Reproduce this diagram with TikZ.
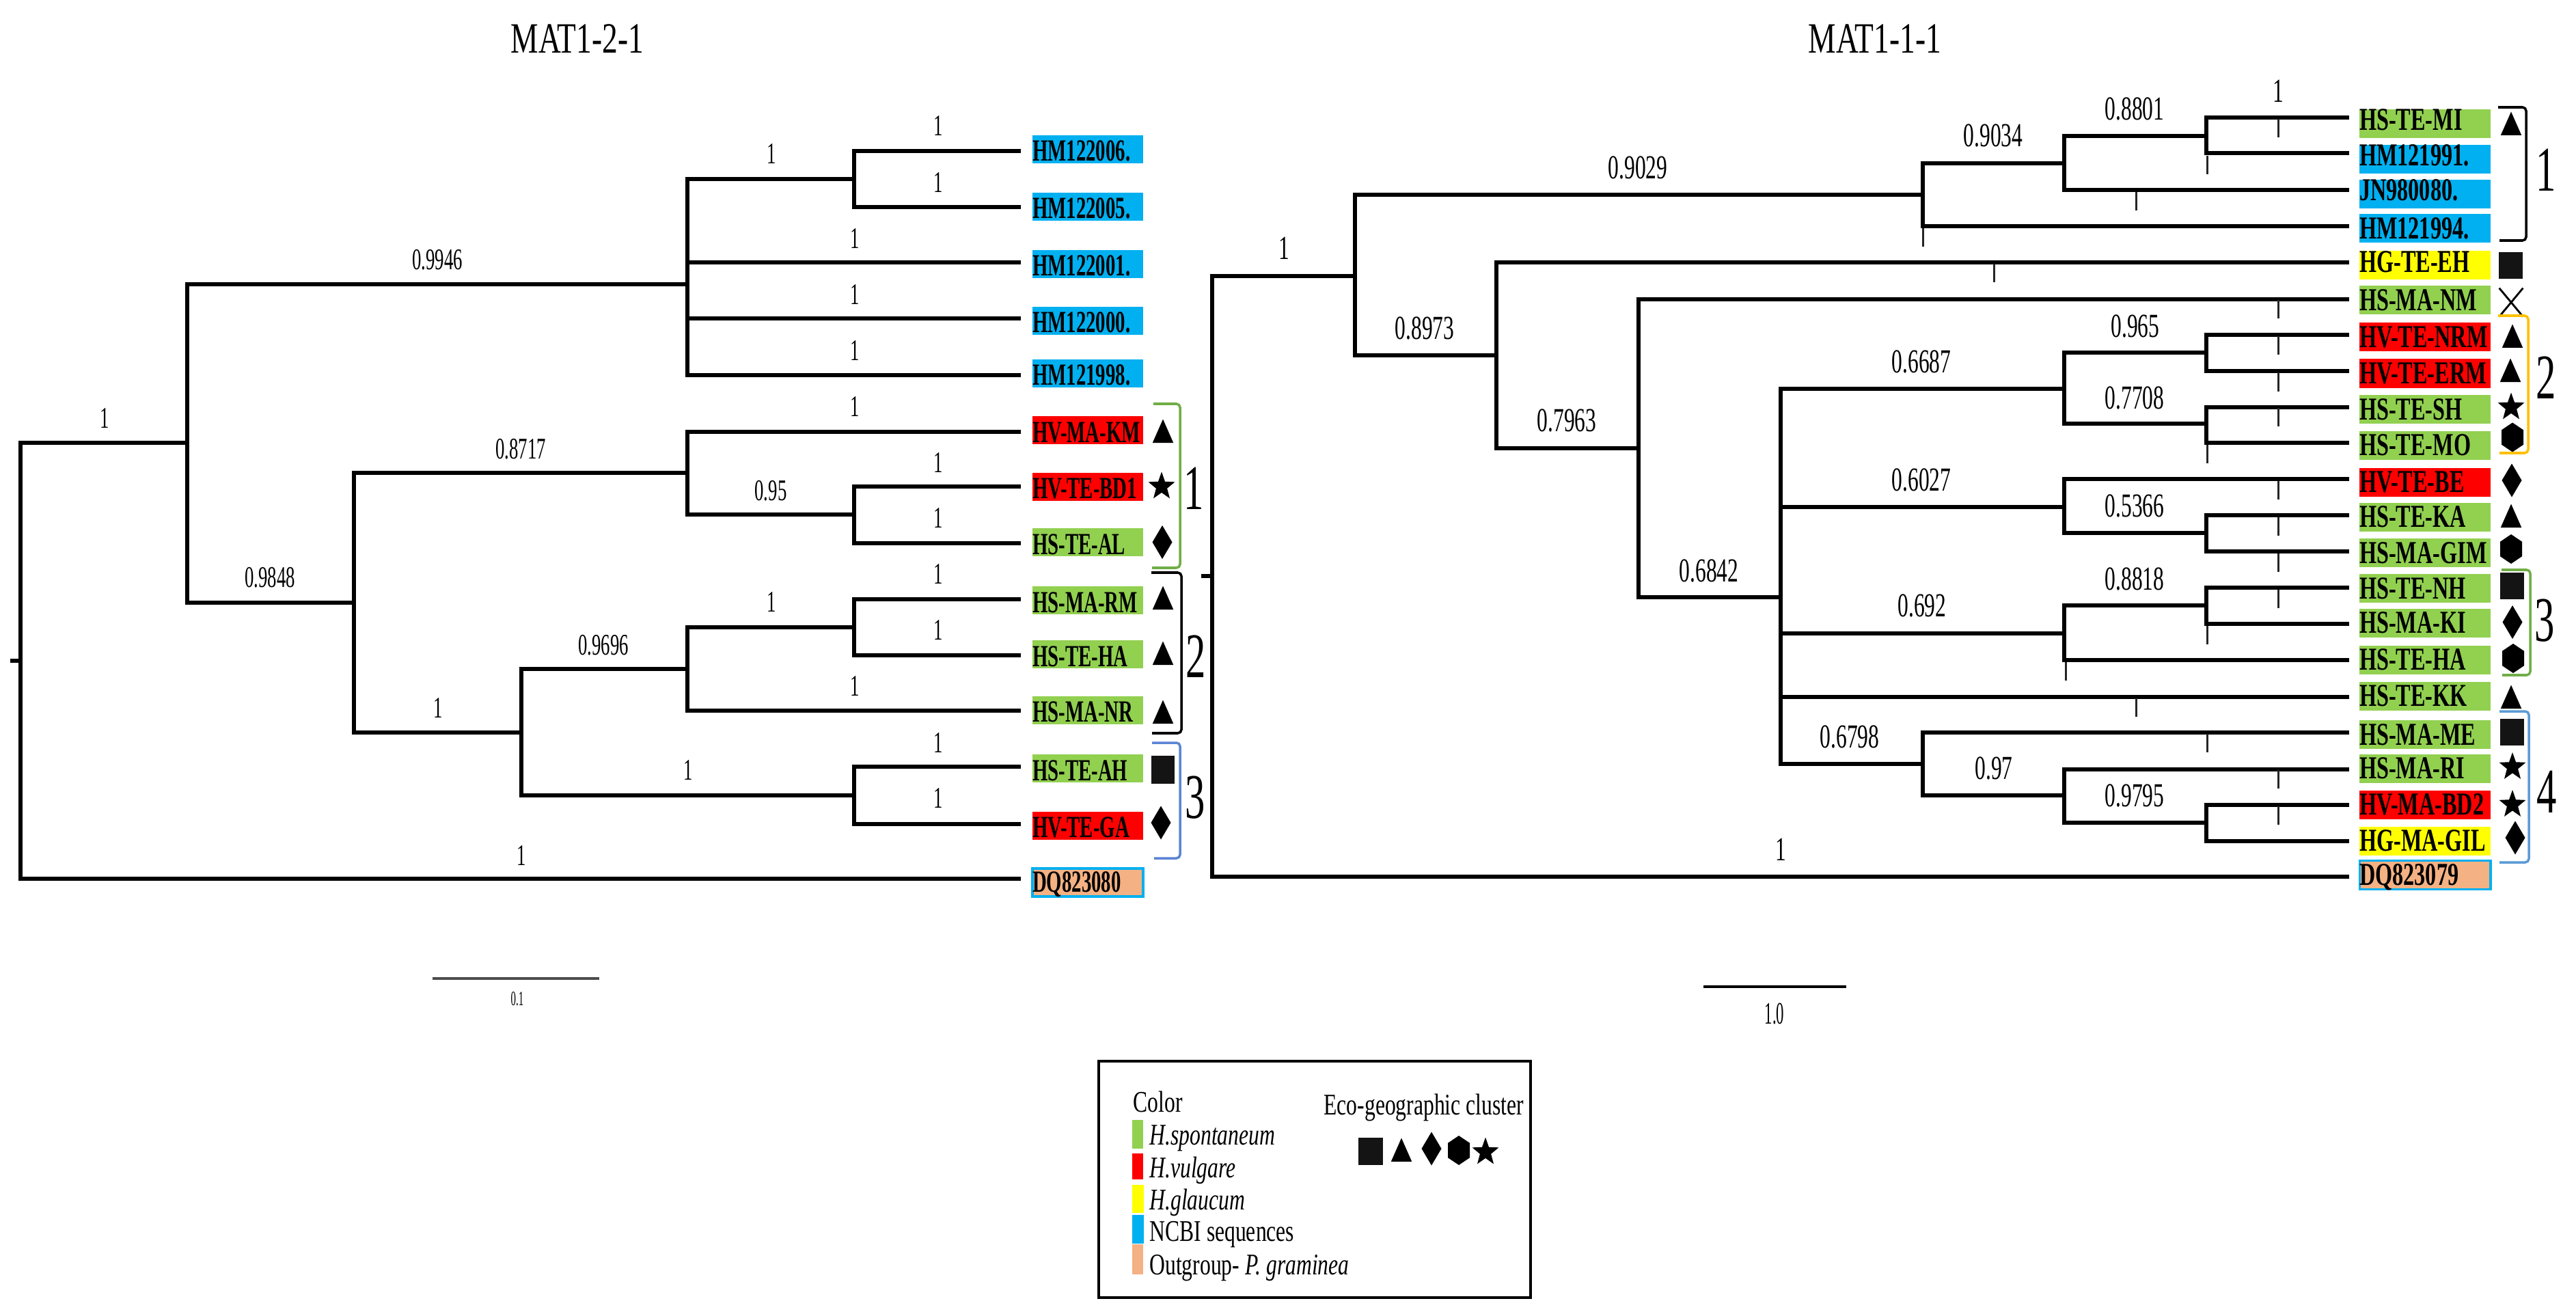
\documentclass[tikz,border=0pt]{standalone}
\usepackage{fontspec}
\setmainfont{Liberation Serif}
\usetikzlibrary{shapes.geometric}
\usetikzlibrary{shapes.misc}
\definecolor{spont}{HTML}{92D050}
\definecolor{vulg}{HTML}{FF0000}
\definecolor{glauc}{HTML}{FFFF00}
\definecolor{ncbi}{HTML}{00B0F0}
\definecolor{outgr}{HTML}{F4B183}
\definecolor{grp}{HTML}{70AD47}
\definecolor{blu}{HTML}{5B85D5}
\definecolor{sky}{HTML}{5B9BD5}
\definecolor{amber}{HTML}{FFC000}
\begin{document}
\begin{tikzpicture}[y=-1cm,
	branch/.style={line width=1.6pt},
	rbranch/.style={line width=1.85pt},
	ltax/.style={inner sep=0,outer sep=0,xscale=.64,text width=2.53cm,text height=.38cm,text depth=.03cm,align=left,font=\fontsize{12.8pt}{13pt}\selectfont\bfseries,execute at begin node={\hyphenchar\font=-1 }},
	rtax/.style={inner sep=0,outer sep=0,xscale=.69,text width=2.78cm,text height=.36cm,text depth=.06cm,align=left,font=\fontsize{13.3pt}{14pt}\selectfont\bfseries,execute at begin node={\hyphenchar\font=-1 }},
	hightax/.style={text height=.31cm,text depth=.11cm},
	lsup/.style={inner sep=0,xscale=.61,font=\fontsize{12.5pt}{13pt}\selectfont},
	rsup/.style={inner sep=0,xscale=.64,font=\fontsize{14pt}{15pt}\selectfont},
	ticknode/.style={rectangle,fill=black!85,inner sep=0,minimum width=.03cm,minimum height=.27cm},
	clnum/.style={inner sep=0,xscale=.63,font=\fontsize{26.5pt}{27pt}\selectfont},
	titlenode/.style={inner sep=0,xscale=.72,font=\fontsize{18pt}{19pt}\selectfont},
	legtxt/.style={inner sep=0,anchor=west,xscale=.72,font=\fontsize{12.5pt}{13pt}\selectfont},
	brack/.style={line width=1pt,rounded corners=1.5pt},
	swatch/.style={rectangle,inner sep=0,minimum width=.16cm},
	trimark/.style={regular polygon,regular polygon sides=3,fill=black,inner sep=0,outer sep=0,minimum size=.4cm,xscale=.88,yscale=1.15,anchor=side 2},
	dimark/.style={diamond,fill=black,inner sep=0,outer sep=0,minimum width=.29cm,minimum height=.49cm},
	hexmark/.style={regular polygon,regular polygon sides=6,shape border rotate=30,fill=black,inner sep=0,outer sep=0,minimum size=.43cm,xscale=.86},
	starmark/.style={star,star points=5,star point ratio=2.4,fill=black,inner sep=0,outer sep=0,minimum size=.43cm,xscale=.95},
	sqmark/.style={rectangle,fill=black!92,inner sep=0,outer sep=0,minimum width=.35cm,minimum height=.39cm}]
	\useasboundingbox (0,0) rectangle (37.70,19.23);
	\node[titlenode](ltitle) at (8.45,.57){MAT1-2-1};
	\node[titlenode](rtitle) at (27.44,.57){MAT1-1-1};

	% left tree
	\coordinate (lstub) at (.15,9.67);
	\coordinate (lroot) at (.30,9.67);
	\coordinate (lA) at (2.74,6.48);
	\coordinate (lB) at (5.18,8.82);
	\coordinate (lC) at (7.63,10.72);
	\coordinate (lD) at (10.06,4.16);
	\coordinate (lD2) at (12.50,2.62);
	\coordinate (lE) at (10.06,6.92);
	\coordinate (lE2) at (12.50,7.53);
	\coordinate (lG) at (10.06,9.79);
	\coordinate (lG2) at (12.50,9.18);
	\coordinate (lH) at (12.50,11.64);
	\coordinate (lhm6e) at (14.94,2.21);
	\coordinate (lhm5e) at (14.94,3.03);
	\coordinate (lhm1e) at (14.94,3.84);
	\coordinate (lhm0e) at (14.94,4.66);
	\coordinate (lhm8e) at (14.94,5.49);
	\coordinate (lkme) at (14.94,6.32);
	\coordinate (lbde) at (14.94,7.12);
	\coordinate (lale) at (14.94,7.95);
	\coordinate (lrme) at (14.94,8.77);
	\coordinate (lhae) at (14.94,9.59);
	\coordinate (lnre) at (14.94,10.40);
	\coordinate (lahe) at (14.94,11.22);
	\coordinate (lgae) at (14.94,12.06);
	\coordinate (ldqe) at (14.94,12.86);
	\draw[branch] (lstub) -- (lroot);
	\draw[branch] (lroot) |- (lA);
	\draw[branch] (lroot) |- (ldqe);
	\draw[branch] (lA) |- (lD);
	\draw[branch] (lA) |- (lB);
	\draw[branch] (lB) |- (lE);
	\draw[branch] (lB) |- (lC);
	\draw[branch] (lC) |- (lG);
	\draw[branch] (lC) |- (lH);
	\draw[branch] (lD) |- (lD2);
	\draw[branch] (lD2) |- (lhm6e);
	\draw[branch] (lD2) |- (lhm5e);
	\draw[branch] (lD) |- (lhm1e);
	\draw[branch] (lD) |- (lhm0e);
	\draw[branch] (lD) |- (lhm8e);
	\draw[branch] (lE) |- (lkme);
	\draw[branch] (lE) |- (lE2);
	\draw[branch] (lE2) |- (lbde);
	\draw[branch] (lE2) |- (lale);
	\draw[branch] (lG) |- (lG2);
	\draw[branch] (lG2) |- (lrme);
	\draw[branch] (lG2) |- (lhae);
	\draw[branch] (lG) |- (lnre);
	\draw[branch] (lH) |- (lahe);
	\draw[branch] (lH) |- (lgae);

	\node[ltax,fill=ncbi](lhm6) at (15.92,2.185){HM122006.};
	\node[ltax,fill=ncbi](lhm5) at (15.92,3.025){HM122005.};
	\node[ltax,fill=ncbi](lhm1) at (15.92,3.865){HM122001.};
	\node[ltax,fill=ncbi](lhm0) at (15.92,4.695){HM122000.};
	\node[ltax,fill=ncbi](lhm8) at (15.92,5.46){HM121998.};
	\node[ltax,fill=vulg](lkm) at (15.92,6.295){HV-MA-KM};
	\node[ltax,fill=vulg](lbd) at (15.92,7.12){HV-TE-BD1};
	\node[ltax,fill=spont](lal) at (15.92,7.935){HS-TE-AL};
	\node[ltax,fill=spont](lrm) at (15.92,8.785){HS-MA-RM};
	\node[ltax,fill=spont](lha) at (15.92,9.575){HS-TE-HA};
	\node[ltax,fill=spont](lnr) at (15.92,10.39){HS-MA-NR};
	\node[ltax,fill=spont](lah) at (15.92,11.245){HS-TE-AH};
	\node[ltax,fill=vulg](lga) at (15.92,12.08){HV-TE-GA};
	\node[ltax,fill=outgr,draw=ncbi,line width=.9pt,text height=.34cm,text depth=.07cm](ldq) at (15.92,12.915){DQ823080};

	\node[lsup](ls1) at (1.53,6.12){1};
	\node[lsup](ls2) at (6.40,3.80){0.9946};
	\node[lsup](ls3) at (7.62,6.57){0.8717};
	\node[lsup](ls4) at (3.95,8.45){0.9848};
	\node[lsup](ls5) at (8.83,9.44){0.9696};
	\node[lsup](ls6) at (6.41,10.36){1};
	\node[lsup](ls7) at (7.63,12.52){1};
	\node[lsup](ls8) at (11.29,2.25){1};
	\node[lsup](ls9) at (13.73,1.84){1};
	\node[lsup](ls10) at (13.73,2.67){1};
	\node[lsup](ls11) at (12.51,3.49){1};
	\node[lsup](ls12) at (12.51,4.31){1};
	\node[lsup](ls13) at (12.51,5.13){1};
	\node[lsup](ls14) at (12.51,5.95){1};
	\node[lsup](ls15) at (13.73,6.77){1};
	\node[lsup](ls16) at (13.73,7.58){1};
	\node[lsup](ls17) at (11.28,7.18){0.95};
	\node[lsup](ls18) at (13.73,8.40){1};
	\node[lsup](ls19) at (11.29,8.81){1};
	\node[lsup](ls20) at (13.73,9.22){1};
	\node[lsup](ls21) at (12.51,10.04){1};
	\node[lsup](ls22) at (13.73,10.87){1};
	\node[lsup](ls23) at (10.07,11.27){1};
	\node[lsup](ls24) at (13.73,11.68){1};

	\node[trimark](lm1) at (17.02,6.48){};
	\node[starmark](lm2) at (17.00,7.12){};
	\node[dimark](lm3) at (17.01,7.935){};
	\node[trimark](lm4) at (17.02,8.92){};
	\node[trimark](lm5) at (17.02,9.73){};
	\node[trimark](lm6) at (17.02,10.59){};
	\node[sqmark,minimum width=.34cm,minimum height=.41cm](lm7) at (17.02,11.265){};
	\node[dimark](lm8) at (16.99,12.04){};

	\draw[brack,grp] (16.88,5.91) -| (17.27,8.31) -- (16.86,8.31);
	\draw[brack,black] (16.85,8.38) -| (17.29,10.73) -- (16.86,10.73);
	\draw[brack,blu] (16.86,10.87) -| (17.27,12.56) -- (16.89,12.56);
	\node[clnum](lc1) at (17.47,7.15){1};
	\node[clnum](lc2) at (17.50,9.61){2};
	\node[clnum](lc3) at (17.49,11.67){3};

	\coordinate (lsa) at (6.33,14.32);
	\coordinate (lsb) at (8.77,14.32);
	\draw[line width=1.1pt,black!70] (lsa) -- (lsb);
	\node[inner sep=0,xscale=.5,font=\fontsize{8.5pt}{9pt}\selectfont](lsl) at (7.57,14.62){0.1};

	% right tree
	\coordinate (rstub) at (17.58,8.43);
	\coordinate (rroot) at (17.74,8.43);
	\coordinate (rA) at (19.83,4.04);
	\coordinate (rB) at (21.90,5.20);
	\coordinate (rC) at (23.98,6.56);
	\coordinate (rD) at (26.06,8.74);
	\coordinate (rE1) at (28.14,2.85);
	\coordinate (rE2) at (30.21,2.39);
	\coordinate (rE3) at (32.29,1.99);
	\coordinate (rF1) at (30.21,5.69);
	\coordinate (rF2) at (32.29,5.16);
	\coordinate (rF3) at (32.29,6.20);
	\coordinate (rG1) at (30.21,7.42);
	\coordinate (rG2) at (32.29,7.80);
	\coordinate (rH1) at (30.21,9.27);
	\coordinate (rH2) at (32.29,8.86);
	\coordinate (rI1) at (28.14,11.18);
	\coordinate (rI2) at (30.21,11.64);
	\coordinate (rI3) at (32.29,12.04);
	\coordinate (rmie) at (34.38,1.72);
	\coordinate (r91e) at (34.38,2.24);
	\coordinate (rjne) at (34.38,2.78);
	\coordinate (r94e) at (34.38,3.31);
	\coordinate (rehe) at (34.38,3.84);
	\coordinate (rnme) at (34.38,4.38);
	\coordinate (rnre) at (34.38,4.90);
	\coordinate (rere) at (34.38,5.43);
	\coordinate (rshe) at (34.38,5.96);
	\coordinate (rmoe) at (34.38,6.48);
	\coordinate (rbee) at (34.38,7.01);
	\coordinate (rkae) at (34.38,7.54);
	\coordinate (rgie) at (34.38,8.07);
	\coordinate (rnhe) at (34.38,8.60);
	\coordinate (rkie) at (34.38,9.13);
	\coordinate (rhae) at (34.38,9.66);
	\coordinate (rkke) at (34.38,10.20);
	\coordinate (rmee) at (34.38,10.72);
	\coordinate (rrie) at (34.38,11.26);
	\coordinate (rbde) at (34.38,11.78);
	\coordinate (rgle) at (34.38,12.31);
	\coordinate (rdqe) at (34.38,12.83);
	\draw[rbranch] (rstub) -- (rroot);
	\draw[rbranch] (rroot) |- (rA);
	\draw[rbranch] (rroot) |- (rdqe);
	\draw[rbranch] (rA) |- (rE1);
	\draw[rbranch] (rA) |- (rB);
	\draw[rbranch] (rB) |- (rehe);
	\draw[rbranch] (rB) |- (rC);
	\draw[rbranch] (rC) |- (rnme);
	\draw[rbranch] (rC) |- (rD);
	\draw[rbranch] (rE1) |- (rE2);
	\draw[rbranch] (rE1) |- (r94e);
	\draw[rbranch] (rE2) |- (rE3);
	\draw[rbranch] (rE2) |- (rjne);
	\draw[rbranch] (rE3) |- (rmie);
	\draw[rbranch] (rE3) |- (r91e);
	\draw[rbranch] (rD) |- (rF1);
	\draw[rbranch] (rD) |- (rG1);
	\draw[rbranch] (rD) |- (rH1);
	\draw[rbranch] (rD) |- (rkke);
	\draw[rbranch] (rD) |- (rI1);
	\draw[rbranch] (rF1) |- (rF2);
	\draw[rbranch] (rF1) |- (rF3);
	\draw[rbranch] (rF2) |- (rnre);
	\draw[rbranch] (rF2) |- (rere);
	\draw[rbranch] (rF3) |- (rshe);
	\draw[rbranch] (rF3) |- (rmoe);
	\draw[rbranch] (rG1) |- (rbee);
	\draw[rbranch] (rG1) |- (rG2);
	\draw[rbranch] (rG2) |- (rkae);
	\draw[rbranch] (rG2) |- (rgie);
	\draw[rbranch] (rH1) |- (rH2);
	\draw[rbranch] (rH1) |- (rhae);
	\draw[rbranch] (rH2) |- (rnhe);
	\draw[rbranch] (rH2) |- (rkie);
	\draw[rbranch] (rI1) |- (rmee);
	\draw[rbranch] (rI1) |- (rI2);
	\draw[rbranch] (rI2) |- (rrie);
	\draw[rbranch] (rI2) |- (rI3);
	\draw[rbranch] (rI3) |- (rbde);
	\draw[rbranch] (rI3) |- (rgle);

	\node[rtax,hightax,fill=spont](rmi) at (35.49,1.81){HS-TE-MI};
	\node[rtax,hightax,fill=ncbi](r91) at (35.49,2.33){HM121991.};
	\node[rtax,hightax,fill=ncbi](rjn) at (35.49,2.84){JN980080.};
	\node[rtax,fill=ncbi](r94) at (35.49,3.345){HM121994.};
	\node[rtax,hightax,fill=glauc](reh) at (35.49,3.885){HG-TE-EH};
	\node[rtax,fill=spont](rnm) at (35.49,4.39){HS-MA-NM};
	\node[rtax,fill=vulg](rnr) at (35.49,4.93){HV-TE-NRM};
	\node[rtax,fill=vulg](rer) at (35.49,5.465){HV-TE-ERM};
	\node[rtax,fill=spont](rsh) at (35.49,5.99){HS-TE-SH};
	\node[rtax,fill=spont](rmo) at (35.49,6.515){HS-TE-MO};
	\node[rtax,fill=vulg](rbe) at (35.49,7.055){HV-TE-BE};
	\node[rtax,fill=spont](rka) at (35.49,7.565){HS-TE-KA};
	\node[rtax,fill=spont](rgi) at (35.49,8.09){HS-MA-GIM};
	\node[rtax,fill=spont](rnh) at (35.49,8.61){HS-TE-NH};
	\node[rtax,fill=spont](rki) at (35.49,9.115){HS-MA-KI};
	\node[rtax,fill=spont](rha) at (35.49,9.655){HS-TE-HA};
	\node[rtax,fill=spont](rkk) at (35.49,10.185){HS-TE-KK};
	\node[rtax,fill=spont](rme) at (35.49,10.75){HS-MA-ME};
	\node[rtax,fill=spont](rri) at (35.49,11.245){HS-MA-RI};
	\node[rtax,fill=vulg](rbd) at (35.49,11.775){HV-MA-BD2};
	\node[rtax,fill=glauc](rgl) at (35.49,12.305){HG-MA-GIL};
	\node[rtax,fill=outgr,draw=ncbi,line width=.9pt](rdq) at (35.49,12.805){DQ823079};

	\node[rsup](rs1) at (18.79,3.63){1};
	\node[rsup](rs2) at (23.97,2.45){0.9029};
	\node[rsup](rs3) at (20.85,4.80){0.8973};
	\node[rsup](rs4) at (22.93,6.15){0.7963};
	\node[rsup](rs5) at (25.01,8.35){0.6842};
	\node[rsup](rs6) at (27.07,10.78){0.6798};
	\node[rsup](rs7) at (26.06,12.43){1};
	\node[rsup](rs8) at (31.24,1.59){0.8801};
	\node[rsup](rs9) at (29.17,1.98){0.9034};
	\node[rsup](rs10) at (33.34,1.33){1};
	\node[rsup](rs11) at (31.25,4.77){0.965};
	\node[rsup](rs12) at (28.12,5.29){0.6687};
	\node[rsup](rs13) at (31.24,5.82){0.7708};
	\node[rsup](rs14) at (28.12,7.02){0.6027};
	\node[rsup](rs15) at (31.24,7.40){0.5366};
	\node[rsup](rs16) at (31.24,8.47){0.8818};
	\node[rsup](rs17) at (28.13,8.86){0.692};
	\node[rsup](rs18) at (29.18,11.24){0.97};
	\node[rsup](rs19) at (31.24,11.64){0.9795};

	\node[ticknode](k1) at (33.34,1.88){};
	\node[ticknode](k2) at (32.30,2.415){};
	\node[ticknode](k3) at (31.26,2.95){};
	\node[ticknode](k4) at (28.14,3.48){};
	\node[ticknode](k5) at (29.18,3.995){};
	\node[ticknode](k6) at (33.34,4.53){};
	\node[ticknode](k7) at (33.34,5.06){};
	\node[ticknode](k8) at (33.34,5.59){};
	\node[ticknode](k9) at (33.34,6.10){};
	\node[ticknode](k10) at (32.30,6.64){};
	\node[ticknode](k11) at (33.34,7.17){};
	\node[ticknode](k12) at (33.34,7.70){};
	\node[ticknode](k13) at (33.34,8.23){};
	\node[ticknode](k14) at (33.34,8.765){};
	\node[ticknode](k15) at (32.30,9.295){};
	\node[ticknode](k16) at (30.23,9.825){};
	\node[ticknode](k17) at (31.26,10.355){};
	\node[ticknode](k18) at (32.30,10.87){};
	\node[ticknode](k19) at (33.34,11.405){};
	\node[ticknode](k20) at (33.34,11.93){};

	\node[trimark](rm1) at (36.75,1.98){};
	\node[sqmark](rm2) at (36.745,3.885){};
	\node[cross out,draw=black,line width=.8pt,inner sep=0,minimum width=.32cm,minimum height=.39cm](rm3) at (36.75,4.425){};
	\node[trimark](rm4) at (36.77,5.09){};
	\node[trimark](rm5) at (36.74,5.59){};
	\node[starmark](rm6) at (36.75,5.96){};
	\node[hexmark](rm7) at (36.77,6.40){};
	\node[dimark](rm8) at (36.76,7.03){};
	\node[trimark](rm9) at (36.75,7.72){};
	\node[hexmark](rm10) at (36.75,8.035){};
	\node[sqmark](rm11) at (36.765,8.575){};
	\node[dimark](rm12) at (36.77,9.105){};
	\node[hexmark](rm13) at (36.78,9.635){};
	\node[trimark](rm14) at (36.75,10.37){};
	\node[sqmark](rm15) at (36.765,10.715){};
	\node[starmark](rm16) at (36.77,11.225){};
	\node[starmark](rm17) at (36.77,11.775){};
	\node[dimark](rm18) at (36.81,12.26){};

	\draw[brack,black] (36.56,1.57) -| (36.97,3.52) -- (36.58,3.52);
	\draw[brack,amber] (36.56,4.62) -| (37.00,6.63) -- (36.58,6.63);
	\draw[brack,grp] (36.61,8.34) -| (37.03,9.88) -- (36.62,9.88);
	\draw[brack,sky] (36.58,10.41) -| (37.01,12.62) -- (36.58,12.62);
	\node[clnum](rc1) at (37.26,2.49){1};
	\node[clnum](rc2) at (37.26,5.53){2};
	\node[clnum](rc3) at (37.24,9.08){3};
	\node[clnum](rc4) at (37.27,11.59){4};

	\coordinate (rsa) at (24.93,14.44);
	\coordinate (rsb) at (27.02,14.44);
	\draw[line width=1.3pt] (rsa) -- (rsb);
	\node[inner sep=0,xscale=.5,font=\fontsize{13pt}{14pt}\selectfont](rsl) at (25.97,14.84){1.0};

	% legend
	\node[rectangle,draw=black,line width=1.4pt,inner sep=0,minimum width=6.32cm,minimum height=3.46cm](legbox) at (19.24,17.26){};
	\node[legtxt](legcol) at (16.58,16.12){Color};
	\node[swatch,fill=spont,minimum height=.42cm](sw1) at (16.645,16.60){};
	\node[swatch,fill=vulg,minimum height=.38cm](sw2) at (16.645,17.07){};
	\node[swatch,fill=glauc,minimum width=.17cm,minimum height=.41cm](sw3) at (16.655,17.545){};
	\node[swatch,fill=ncbi,minimum width=.17cm,minimum height=.42cm](sw4) at (16.655,17.99){};
	\node[swatch,fill=outgr,minimum height=.44cm](sw5) at (16.645,18.43){};
	\node[legtxt](leg1) at (16.82,16.66){\textit{H.spontaneum}};
	\node[legtxt](leg2) at (16.82,17.13){\textit{H.vulgare}};
	\node[legtxt](leg3) at (16.82,17.60){\textit{H.glaucum}};
	\node[legtxt](leg4) at (16.82,18.07){NCBI sequences};
	\node[legtxt](leg5) at (16.82,18.56){Outgroup- \textit{P. graminea}};
	\node[legtxt](legeco) at (19.37,16.21){Eco-geographic cluster};
	\node[sqmark,minimum width=.36cm,minimum height=.40cm](lk1) at (20.06,16.85){};
	\node[trimark](lk2) at (20.51,17.00){};
	\node[dimark](lk3) at (20.95,16.81){};
	\node[hexmark](lk4) at (21.35,16.835){};
	\node[starmark](lk5) at (21.74,16.86){};
\end{tikzpicture}
\end{document}
